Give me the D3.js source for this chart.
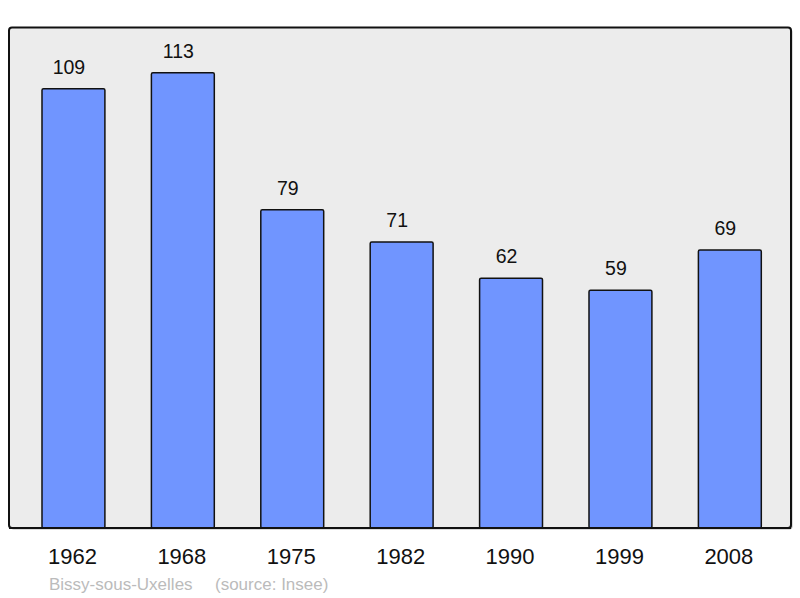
<!DOCTYPE html>
<html>
<head>
<meta charset="utf-8">
<script src="https://cdn.jsdelivr.net/npm/d3@7"></script>
<style>
  body { margin: 0; background: #fff; }
  svg text { font-family: "Liberation Sans", Arial, sans-serif; }
</style>
</head>
<body>
<svg id="chart" width="800" height="598"></svg>
<script>
// population by census year
var years = ["1962", "1968", "1975", "1982", "1990", "1999", "2008"];
var population = [109, 113, 79, 71, 62, 59, 69];
var town = "Bissy-sous-Uxelles";
var source = "(source: Insee)";

var svg = d3.select("#chart");

var panel = {left: 9, top: 27.5, right: 791, bottom: 528};

svg.append("rect")
	.attr("x", panel.left + 1.5)
	.attr("y", panel.top + 1.5)
	.attr("width", panel.right - panel.left)
	.attr("height", panel.bottom - panel.top)
	.attr("rx", 3)
	.attr("fill", "#b8b8b8");

svg.append("rect")
	.attr("x", panel.left)
	.attr("y", panel.top)
	.attr("width", panel.right - panel.left)
	.attr("height", panel.bottom - panel.top)
	.attr("rx", 3)
	.attr("fill", "#ececec")
	.attr("stroke", "#111")
	.attr("stroke-width", 2);

var x = d3.scaleBand()
	.domain(years)
	.range([18.75, 784.55])
	.paddingInner(0.425)
	.paddingOuter(0.2125);

var y = d3.scaleLinear()
	.domain([0, 113])
	.range([panel.bottom, 72.7]);

var data = years.map(function (yr, i) {
	return {year: yr, value: population[i]};
});

var bars = svg.append("g");
bars.selectAll("rect")
	.data(data)
	.enter().append("rect")
	.attr("x", function (d) { return x(d.year); })
	.attr("y", function (d) { return y(d.value); })
	.attr("width", x.bandwidth())
	.attr("height", function (d) { return y(0) - y(d.value); })
	.attr("rx", 1.5)
	.attr("fill", "#7095ff")
	.attr("stroke", "#111")
	.attr("stroke-width", 1.5);

// value labels sit a little left of the bar centre
bars.selectAll("text")
	.data(data)
	.enter().append("text")
	.attr("x", function (d) { return x(d.year) + x.bandwidth() / 2 - 4.5; })
	.attr("y", function (d) { return y(d.value) - 15; })
	.attr("text-anchor", "middle")
	.attr("font-size", "19.5px")
	.attr("fill", "#111")
	.text(function (d) { return d.value; });

// redraw panel bottom line over bar bottoms
svg.append("line")
	.attr("x1", panel.left)
	.attr("x2", panel.right)
	.attr("y1", panel.bottom)
	.attr("y2", panel.bottom)
	.attr("stroke", "#111")
	.attr("stroke-width", 2);

var xAxis = d3.axisBottom(x).tickSize(0).tickPadding(0);
var gx = svg.append("g")
	.attr("transform", "translate(-1," + 548 + ")")
	.call(xAxis);
gx.select(".domain").remove();
gx.selectAll("text")
	.attr("font-size", "22px")
	.attr("fill", "#111")
	.attr("dy", "0.72em");

svg.append("text")
	.attr("x", 49)
	.attr("y", 590)
	.attr("font-size", "17px")
	.attr("fill", "#bbbbbb")
	.text(town);

svg.append("text")
	.attr("x", 215)
	.attr("y", 590)
	.attr("font-size", "17px")
	.attr("fill", "#bbbbbb")
	.text(source);
</script>
</body>
</html>
